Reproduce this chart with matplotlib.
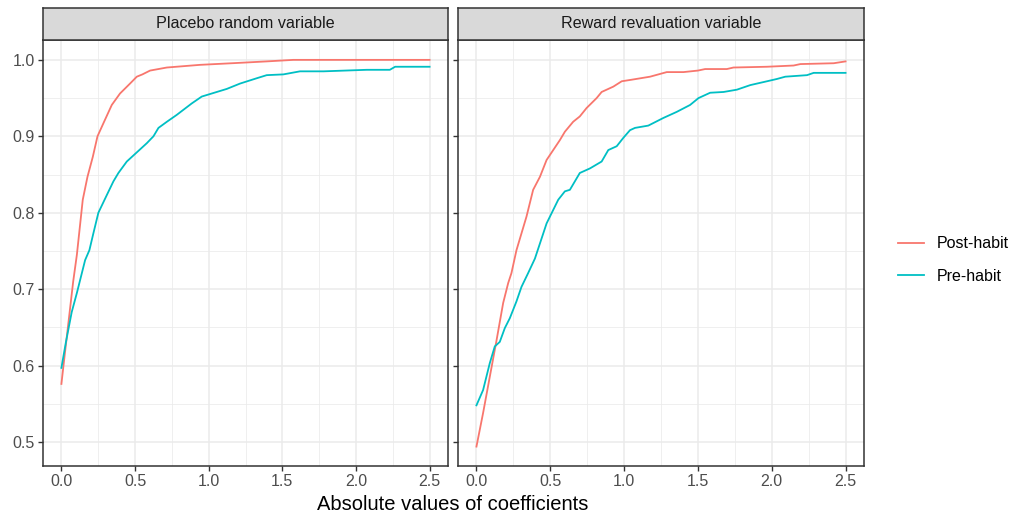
import matplotlib
matplotlib.use("Agg")
import matplotlib.pyplot as plt
from matplotlib.lines import Line2D

plt.rcParams['font.family'] = ['Liberation Sans', 'DejaVu Sans']

# data
panels = ["Placebo random variable", "Reward revaluation variable"]
groups = ["Post-habit", "Pre-habit"]
colors = {"Post-habit": "#F8766D", "Pre-habit": "#00BFC4"}

placebo_post_x = [0, 0.02, 0.05, 0.08, 0.105, 0.13, 0.145, 0.177, 0.213, 0.245, 0.285, 0.342,
                  0.398, 0.466, 0.512, 0.55, 0.602, 0.716, 0.942, 1.168, 1.394, 1.575, 2.5]
placebo_post_y = [0.576, 0.61, 0.66, 0.71, 0.745, 0.79, 0.817, 0.847, 0.873, 0.90, 0.917, 0.941,
                  0.956, 0.969, 0.978, 0.981, 0.986, 0.990, 0.9935, 0.9957, 0.998, 1.0, 1.0]

placebo_pre_x = [0, 0.03, 0.07, 0.105, 0.161, 0.19, 0.217, 0.251, 0.308, 0.353, 0.387, 0.444,
                 0.512, 0.58, 0.625, 0.659, 0.716, 0.783, 0.885, 0.953, 1.055, 1.123, 1.213,
                 1.327, 1.394, 1.507, 1.62, 1.78, 2.073, 2.23, 2.266, 2.5]
placebo_pre_y = [0.597, 0.63, 0.67, 0.695, 0.738, 0.751, 0.773, 0.80, 0.823, 0.841, 0.852, 0.867,
                 0.879, 0.891, 0.90, 0.911, 0.919, 0.928, 0.943, 0.952, 0.958, 0.962, 0.969,
                 0.976, 0.980, 0.981, 0.985, 0.985, 0.987, 0.987, 0.991, 0.991]

reward_post_x = [0, 0.045, 0.09, 0.136, 0.181, 0.215, 0.237, 0.271, 0.339, 0.384, 0.43, 0.475,
                 0.52, 0.565, 0.599, 0.655, 0.70, 0.746, 0.814, 0.848, 0.927, 0.984, 1.05,
                 1.176, 1.289, 1.402, 1.50, 1.549, 1.696, 1.741, 1.967, 2.148, 2.194, 2.42, 2.5]
reward_post_y = [0.494, 0.538, 0.585, 0.633, 0.682, 0.708, 0.721, 0.751, 0.795, 0.830, 0.847, 0.869,
                 0.882, 0.895, 0.906, 0.919, 0.926, 0.937, 0.950, 0.958, 0.965, 0.972, 0.974,
                 0.978, 0.984, 0.984, 0.986, 0.988, 0.988, 0.990, 0.991, 0.9926, 0.9945, 0.9956, 0.998]

reward_pre_x = [0, 0.045, 0.09, 0.124, 0.158, 0.192, 0.226, 0.271, 0.305, 0.35, 0.396, 0.475,
                0.554, 0.599, 0.633, 0.70, 0.769, 0.848, 0.893, 0.95, 0.995, 1.04, 1.074, 1.164,
                1.266, 1.357, 1.447, 1.504, 1.583, 1.674, 1.764, 1.855, 1.968, 2.035, 2.092,
                2.239, 2.284, 2.5]
reward_pre_y = [0.548, 0.568, 0.603, 0.625, 0.631, 0.649, 0.662, 0.684, 0.703, 0.721, 0.74, 0.786,
                0.817, 0.828, 0.83, 0.852, 0.858, 0.867, 0.882, 0.887, 0.898, 0.908, 0.911, 0.914,
                0.924, 0.932, 0.941, 0.950, 0.957, 0.958, 0.961, 0.967, 0.972, 0.975, 0.978,
                0.980, 0.983, 0.983]

series = {
    panels[0]: {"Post-habit": (placebo_post_x, placebo_post_y), "Pre-habit": (placebo_pre_x, placebo_pre_y)},
    panels[1]: {"Post-habit": (reward_post_x, reward_post_y), "Pre-habit": (reward_pre_x, reward_pre_y)},
}

x_ticks = [0.0, 0.5, 1.0, 1.5, 2.0, 2.5]
y_ticks = [0.5, 0.6, 0.7, 0.8, 0.9, 1.0]

W, H = 1013, 518
fig = plt.figure(figsize=(W / 100, H / 100), dpi=100)


def frac(x0, y0, x1, y1):
    # pixel box (top-left origin) -> figure fraction rect
    return [x0 / W, (H - y1) / H, (x1 - x0) / W, (y1 - y0) / H]


boxes = [(43, 40, 448, 466), (458, 40, 864, 466)]
dark = "#333333"

for i, (name, box) in enumerate(zip(panels, boxes)):
    ax = fig.add_axes(frac(*box))
    ax.set_facecolor("white")
    for g in groups:
        xs, ys = series[name][g]
        ax.plot(xs, ys, color=colors[g], lw=1.3, zorder=3)
    ax.set_xlim(-0.125, 2.625)
    ax.set_ylim(0.4686, 1.026)
    ax.set_xticks(x_ticks)
    ax.set_xticklabels([f"{v:.1f}" for v in x_ticks])
    ax.set_xticks([0.25, 0.75, 1.25, 1.75, 2.25], minor=True)
    ax.set_yticks(y_ticks)
    ax.set_yticks([0.55, 0.65, 0.75, 0.85, 0.95], minor=True)
    if i == 0:
        ax.set_yticklabels([f"{v:.1f}" for v in y_ticks])
    else:
        ax.set_yticklabels([])
    ax.grid(which="major", color="#EBEBEB", lw=1.1, zorder=0)
    ax.grid(which="minor", color="#EBEBEB", lw=0.55, zorder=0)
    ax.set_axisbelow(True)
    ax.tick_params(which="major", length=3.6, width=1.0, color=dark,
                   labelsize=11.5, labelcolor="#4D4D4D", pad=2.5)
    ax.tick_params(which="minor", length=0)
    for s in ax.spines.values():
        s.set_color(dark)
        s.set_linewidth(1.1)

    sx = fig.add_axes(frac(box[0], 8, box[2], 40))
    sx.set_facecolor("#D9D9D9")
    sx.set_xticks([])
    sx.set_yticks([])
    for s in sx.spines.values():
        s.set_color(dark)
        s.set_linewidth(1.1)
    sx.text(0.5, 0.5, name, ha="center", va="center", fontsize=11.6,
            color="#1A1A1A", transform=sx.transAxes)

fig.text(453 / W, (H - 505) / H, "Absolute values of coefficients",
         ha="center", va="center", fontsize=14.5, color="black")

handles = [Line2D([], [], color=colors[g], lw=1.3) for g in groups]
fig.legend(handles, groups, loc="center left", bbox_to_anchor=(884 / W, (H - 260) / H),
           frameon=False, fontsize=11.5, handlelength=1.6, handletextpad=0.8,
           labelspacing=1.1)

fig.savefig("out.png", dpi=100)
